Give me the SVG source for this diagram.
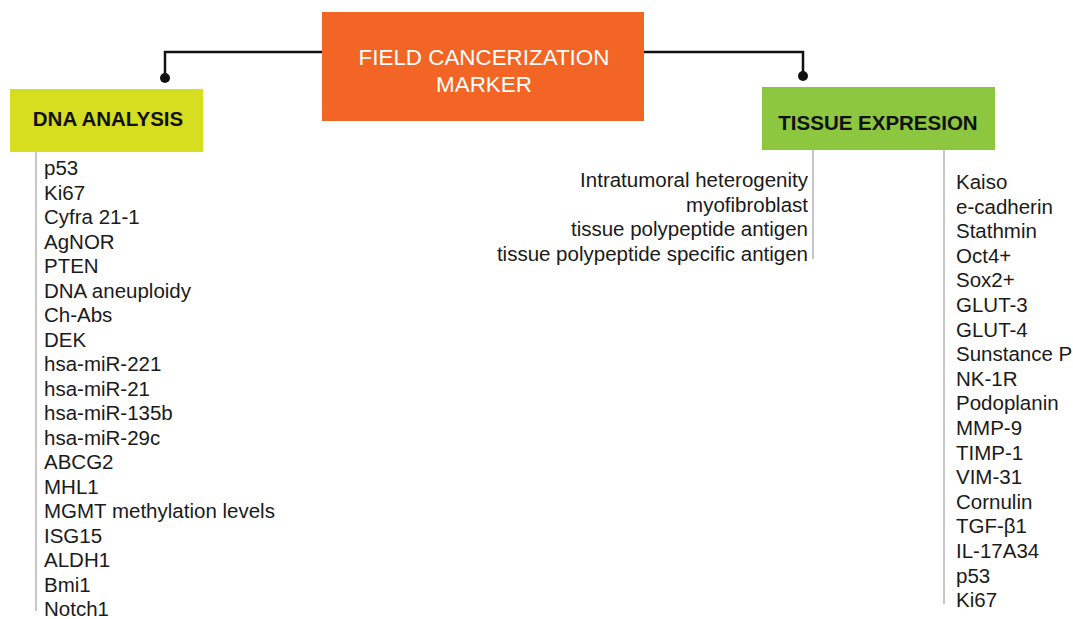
<svg xmlns="http://www.w3.org/2000/svg" width="1073" height="619" viewBox="0 0 1073 619">
<style>
.t{font-family:"Liberation Sans",Arial,sans-serif;font-size:20.5px;fill:#1a1a1a}
.h{font-family:"Liberation Sans",Arial,sans-serif;font-size:20.5px;font-weight:bold;fill:#111;text-anchor:middle}
.m{font-family:"Liberation Sans",Arial,sans-serif;font-size:22.4px;fill:#fff;text-anchor:middle}
.g{stroke:#b3b3b3;stroke-width:1.5;fill:none}
.c{stroke:#111;stroke-width:2.5;fill:none}
</style>
<rect width="1073" height="619" fill="#fff"/>
<g id="connectors">
<path class="c" d="M322 52H165V78"/>
<circle cx="165" cy="78" r="5" fill="#111"/>
<path class="c" d="M644 52H803V76"/>
<circle cx="803" cy="76" r="5" fill="#111"/>
<path class="g" d="M36 152V611"/>
<path class="g" d="M813 150V259"/>
<path class="g" d="M944 150V604"/>
</g>
<g id="root">
<rect x="322" y="12" width="322" height="109" fill="#F26524"/>
<text class="m" x="484" y="65">FIELD CANCERIZATION</text>
<text class="m" x="484" y="92">MARKER</text>
</g>
<g id="dna">
<rect x="10" y="89" width="193" height="63" fill="#D6DE1F"/>
<text class="h" x="108" y="126">DNA ANALYSIS</text>
</g>
<g id="tissue">
<rect x="762" y="87" width="233" height="63" fill="#8DC63F"/>
<text class="h" x="878" y="129.5">TISSUE EXPRESION</text>
</g>
<g id="dna-list" class="t">
<text x="44" y="175">p53</text>
<text x="44" y="199.5">Ki67</text>
<text x="44" y="224">Cyfra 21-1</text>
<text x="44" y="248.5">AgNOR</text>
<text x="44" y="273">PTEN</text>
<text x="44" y="297.5">DNA aneuploidy</text>
<text x="44" y="322">Ch-Abs</text>
<text x="44" y="346.5">DEK</text>
<text x="44" y="371">hsa-miR-221</text>
<text x="44" y="395.5">hsa-miR-21</text>
<text x="44" y="420">hsa-miR-135b</text>
<text x="44" y="444.5">hsa-miR-29c</text>
<text x="44" y="469">ABCG2</text>
<text x="44" y="493.5">MHL1</text>
<text x="44" y="518">MGMT methylation levels</text>
<text x="44" y="542.5">ISG15</text>
<text x="44" y="567">ALDH1</text>
<text x="44" y="591.5">Bmi1</text>
<text x="44" y="616">Notch1</text>
</g>
<g id="tissue-list-left" class="t" text-anchor="end">
<text x="808" y="187">Intratumoral heterogenity</text>
<text x="808" y="211.5">myofibroblast</text>
<text x="808" y="236">tissue polypeptide antigen</text>
<text x="808" y="260.5">tissue polypeptide specific antigen</text>
</g>
<g id="tissue-list-right" class="t">
<text x="956" y="189">Kaiso</text>
<text x="956" y="213.6">e-cadherin</text>
<text x="956" y="238.2">Stathmin</text>
<text x="956" y="262.8">Oct4+</text>
<text x="956" y="287.4">Sox2+</text>
<text x="956" y="312">GLUT-3</text>
<text x="956" y="336.6">GLUT-4</text>
<text x="956" y="361.2">Sunstance P</text>
<text x="956" y="385.8">NK-1R</text>
<text x="956" y="410.4">Podoplanin</text>
<text x="956" y="435">MMP-9</text>
<text x="956" y="459.6">TIMP-1</text>
<text x="956" y="484.2">VIM-31</text>
<text x="956" y="508.8">Cornulin</text>
<text x="956" y="533.4">TGF-β1</text>
<text x="956" y="558">IL-17A34</text>
<text x="956" y="582.6">p53</text>
<text x="956" y="607.2">Ki67</text>
</g>
</svg>
